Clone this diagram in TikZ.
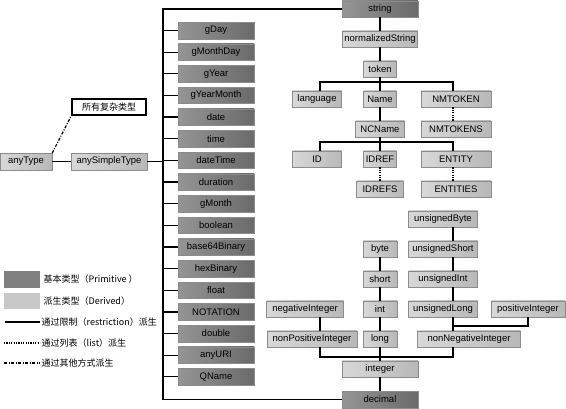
\documentclass[tikz,border=0pt]{standalone}
\usepackage{fontspec}
\setmainfont{Liberation Sans}
\newfontfamily\cjk{Noto Sans CJK SC}
\usepackage{xcolor}
\usepackage{tikz}
\usetikzlibrary{calc}

\definecolor{primlight}{HTML}{959595}
\definecolor{primdark}{HTML}{6A6A6A}
\definecolor{derivlight}{HTML}{D8D8D8}
\definecolor{derivdark}{HTML}{B8B8B8}
\definecolor{primleg}{HTML}{808080}
\definecolor{derivleg}{HTML}{C8C8C8}

\begin{document}
\begin{tikzpicture}[x=1pt, y=-1pt,
    box/.style={minimum height=16.5pt, inner sep=0pt, draw=black!45, line width=0.4pt,
        text=black, font=\fontsize{9.5}{10}\selectfont},
    prim/.style={box, left color=primlight, right color=primdark, minimum width=76pt},
    deriv/.style={box, left color=derivlight, right color=derivdark},
    link/.style={line width=1.2pt},
    listlink/.style={line width=1.2pt, dash pattern=on 1.2pt off 1.2pt},
    otherlink/.style={line width=1.2pt, dash pattern=on 3pt off 1.5pt on 1pt off 1.5pt},
    legtext/.style={anchor=west, inner sep=1.5pt, font=\cjk\fontsize{9}{10}\selectfont}]
    \useasboundingbox (0,0) rectangle (566,409);

    % Connector columns of the right-hand trees
    \coordinate (colL) at (320,0);
    \coordinate (colM) at (380,0);
    \coordinate (colR) at (453,0);
    \coordinate (bus) at (163,9);

    % anyType and anySimpleType
    \node[deriv, minimum width=52pt] (anytype) at (26,161.5) {anyType};
    \node[deriv, minimum width=76pt] (anysimple) at (109,161.5) {anySimpleType};
    \node[draw, fill=white, line width=1.3pt, minimum width=74pt, minimum height=16pt,
        inner sep=0pt, font=\cjk\fontsize{9}{10}\selectfont] (complex) at (109,107) {所有复杂类型};
    \draw[link] (anytype) -- (anysimple);
    \draw[link] (anysimple.east) -- (anysimple.east -| bus);
    \draw[otherlink] (anytype.north east) -- (complex.south west);

    % Primitive column
    \def\primtop{30.5}
    \def\primstep{21.65}
    \foreach \t [count=\i from 0] in {gDay, gMonthDay, gYear, gYearMonth, date, time,
        dateTime, duration, gMonth, boolean, base64Binary, hexBinary, float,
        NOTATION, double, anyURI, QName} {
        \node[prim] (p\i) at (216,\primtop+\i*\primstep) {\t};
        \draw[link] (p\i.west) -- (p\i.west -| bus);
    }

    % string branch
    \node[prim] (string) at (380,9) {string};
    \node[deriv, minimum width=75pt] (normstr) at (380,39) {normalizedString};
    \node[deriv, minimum width=33pt] (token) at (380,69) {token};
    \node[deriv, minimum width=49pt] (language) at (317,99) {language};
    \node[deriv, minimum width=33pt] (name) at (380,99) {Name};
    \node[deriv, minimum width=70pt] (nmtoken) at (456,99) {NMTOKEN};
    \node[deriv, minimum width=49pt] (ncname) at (380,129) {NCName};
    \node[deriv, minimum width=70pt] (nmtokens) at (456,129) {NMTOKENS};
    \node[deriv, minimum width=49pt] (id) at (317,159) {ID};
    \node[deriv, minimum width=33pt] (idref) at (380,159) {IDREF};
    \node[deriv, minimum width=70pt] (entity) at (456,159) {ENTITY};
    \node[deriv, minimum width=47pt] (idrefs) at (380,189) {IDREFS};
    \node[deriv, minimum width=70pt] (entities) at (456,189) {ENTITIES};

    \coordinate (tokjoin) at (380,82);
    \coordinate (ncjoin) at (380,142);
    \draw[link] (string.south) -- (normstr.north);
    \draw[link] (normstr.south) -- (token.north);
    \draw[link] (token.south) -- (name.north);
    \draw[link] (language.north -| colL) |- (tokjoin) -| (nmtoken.north -| colR);
    \draw[link] (name.south) -- (ncname.north);
    \draw[link] (ncname.south) -- (idref.north);
    \draw[link] (id.north -| colL) |- (ncjoin) -| (entity.north -| colR);
    \draw[listlink] (nmtoken.south -| colR) -- (nmtokens.north -| colR);
    \draw[listlink] (idref.south) -- (idrefs.north);
    \draw[listlink] (entity.south -| colR) -- (entities.north -| colR);

    % decimal branch
    \node[deriv, minimum width=69pt] (ubyte) at (443,219) {unsignedByte};
    \node[deriv, minimum width=34pt] (byte) at (380,249) {byte};
    \node[deriv, minimum width=69pt] (ushort) at (443,249) {unsignedShort};
    \node[deriv, minimum width=34pt] (short) at (380,279) {short};
    \node[deriv, minimum width=69pt] (uint) at (443,279) {unsignedInt};
    \node[deriv, minimum width=77pt] (negint) at (305,309) {negativeInteger};
    \node[deriv, minimum width=34pt] (int) at (380,309) {int};
    \node[deriv, minimum width=69pt] (ulong) at (443,309) {unsignedLong};
    \node[deriv, minimum width=74pt] (posint) at (528,309) {positiveInteger};
    \node[deriv, minimum width=90pt] (nonpos) at (312,339) {nonPositiveInteger};
    \node[deriv, minimum width=34pt] (long) at (380,339) {long};
    \node[deriv, minimum width=103pt] (nonneg) at (469,339) {nonNegativeInteger};
    \node[deriv, minimum width=76pt] (integer) at (380,369) {integer};
    \node[prim] (decimal) at (380,399.5) {decimal};

    \coordinate (uljoin) at (453,326);
    \coordinate (intjoin) at (380,357);
    \draw[link] (ubyte.south -| colR) -- (ushort.north -| colR);
    \draw[link] (ushort.south -| colR) -- (uint.north -| colR);
    \draw[link] (uint.south -| colR) -- (ulong.north -| colR);
    \draw[link] (ulong.south -| colR) -- (nonneg.north -| colR);
    \draw[link] (posint.south) |- (uljoin);
    \draw[link] (byte.south) -- (short.north);
    \draw[link] (short.south) -- (int.north);
    \draw[link] (int.south) -- (long.north);
    \draw[link] (long.south) -- (integer.north);
    \draw[link] (negint.south -| colL) -- (nonpos.north -| colL);
    \draw[link] (nonpos.south -| colL) |- (intjoin) -| (nonneg.south -| colR);
    \draw[link] (integer.south) -- (decimal.north);

    % Bus from anySimpleType
    \draw[link] (string.west) -| (bus) |- (decimal.west);

    % Legend
    \node[fill=primleg, minimum width=36pt, minimum height=17pt, inner sep=0pt] (legprim) at (22,279.5) {};
    \node[legtext] (legprimtxt) at (42,279.5) {基本类型（Primitive ）};
    \node[fill=derivleg, minimum width=36pt, minimum height=16pt, inner sep=0pt] (legderiv) at (22,301) {};
    \node[legtext] (legderivtxt) at (42,301) {派生类型（Derived）};
    \coordinate (legrestrstart) at (5,322);
    \node[legtext] (legrestr) at (40,322) {通过限制（restriction）派生};
    \draw[link] (legrestrstart) -- (legrestr.west);
    \coordinate (leglistart) at (4,343);
    \node[legtext] (leglist) at (40,343) {通过列表（list）派生};
    \draw[listlink] (leglistart) -- (leglist.west);
    \coordinate (legotherstart) at (4,363);
    \node[legtext] (legother) at (40,363) {通过其他方式派生};
    \draw[otherlink] (legotherstart) -- (legother.west);
\end{tikzpicture}
\end{document}
